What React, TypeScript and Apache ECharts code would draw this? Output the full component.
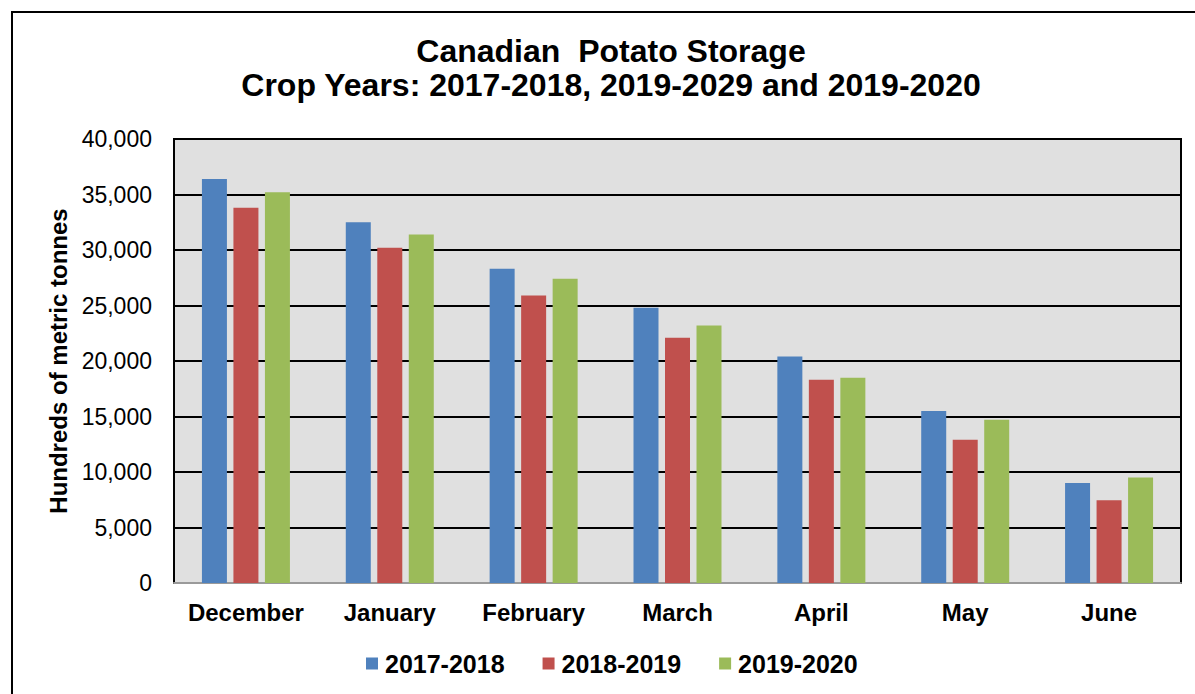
import React, { useEffect, useRef } from "react";
import * as echarts from "echarts";

const months = ["December", "January", "February", "March", "April", "May", "June"];
const seriesNames = ["2017-2018", "2018-2019", "2019-2020"];
const crop2017 = [36400, 32500, 28300, 24800, 20400, 15500, 9000];
const crop2018 = [33800, 30200, 25900, 22100, 18300, 12900, 7450];
const crop2019 = [35200, 31400, 27400, 23200, 18500, 14700, 9500];
const colors = ["#4F81BD", "#C0504D", "#9BBB59"];

const FONT = "'Liberation Sans', Arial, sans-serif";

export default function App() {
  const ref = useRef<HTMLDivElement>(null);
  useEffect(() => {
    if (!ref.current) return;
    const chart = echarts.init(ref.current, null, { renderer: "svg" });
    const data = [crop2017, crop2018, crop2019];
    chart.setOption({
      animation: false,
      backgroundColor: "#ffffff",
      title: {
        text: "Canadian  Potato Storage\nCrop Years: 2017-2018, 2019-2029 and 2019-2020",
        left: 611,
        textAlign: "center",
        top: 34,
        padding: 0,
        textStyle: {
          fontFamily: FONT,
          fontWeight: "bold",
          fontSize: 32,
          lineHeight: 34,
          color: "#000",
        },
      },
      legend: {
        left: 361,
        top: 646,
        itemWidth: 12,
        itemHeight: 12,
        itemGap: 38,
        icon: "rect",
        data: seriesNames,
        textStyle: {
          fontFamily: FONT,
          fontWeight: "bold",
          fontSize: 25,
          color: "#000",
          padding: [0, 0, 0, 2],
        },
      },
      grid: {
        left: 174,
        top: 139,
        right: 14,
        bottom: 111,
        show: true,
        backgroundColor: "#E0E0E0",
        borderColor: "#000",
        borderWidth: 2,
      },
      xAxis: {
        type: "category",
        data: months,
        axisLine: { show: true, lineStyle: { color: "#9a9a9a", width: 2 } },
        axisTick: { show: false },
        axisLabel: {
          interval: 0,
          fontFamily: FONT,
          fontWeight: "bold",
          fontSize: 24,
          color: "#000",
          margin: 17,
        },
      },
      yAxis: {
        type: "value",
        min: 0,
        max: 40000,
        interval: 5000,
        name: "Hundreds of metric tonnes",
        nameLocation: "middle",
        nameRotate: 90,
        nameGap: 102,
        nameTextStyle: {
          fontFamily: FONT,
          fontWeight: "bold",
          fontSize: 24,
          color: "#000",
        },
        axisLine: { show: true, lineStyle: { color: "#000", width: 2 } },
        axisTick: { show: false },
        axisLabel: {
          fontFamily: FONT,
          fontSize: 23,
          color: "#000",
          margin: 22,
          formatter: (v: number) => v.toLocaleString("en-US"),
        },
        splitLine: { show: true, lineStyle: { color: "#000", width: 2 } },
      },
      graphic: [
        {
          type: "rect",
          shape: { x: 12, y: 12, width: 1200, height: 700 },
          style: { fill: "none", stroke: "#000", lineWidth: 2 },
          silent: true,
          z: 100,
        },
      ],
      series: seriesNames.map((name, i) => ({
        name,
        type: "bar",
        data: data[i],
        barWidth: 25,
        barGap: "26%",
        itemStyle: { color: colors[i] },
      })),
    });
    return () => chart.dispose();
  }, []);
  return (
    <div
      ref={ref}
      style={{ position: "fixed", left: 0, top: 0, width: 1195, height: 694 }}
    />
  );
}
